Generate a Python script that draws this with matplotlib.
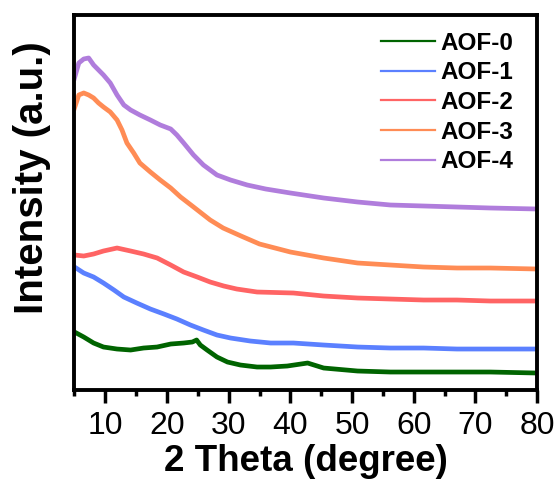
import matplotlib
matplotlib.use('Agg')
import matplotlib.pyplot as plt
from matplotlib.ticker import MultipleLocator

plt.rcParams['font.family'] = ['Liberation Sans', 'DejaVu Sans']

# 2 theta (degree) / intensity (a.u.)
x0 = [5.0, 6.5, 8.1, 9.7, 11.9, 14.1, 16.2, 18.4, 20.6, 22.7, 24.1, 24.8, 25.4, 26.5, 28.1, 29.8, 31.9,
      34.6, 36.8, 39.5, 42.8, 45.4, 50.9, 56.2, 61.6, 67.0, 72.4, 80.0]
y0 = [58, 53, 47, 43, 41, 40, 42, 43, 46, 47, 48, 50, 45, 40, 33, 28, 25,
      23, 23, 24, 27, 22, 19, 18, 18, 18, 18, 17]

x1 = [5.0, 6.5, 8.1, 9.7, 11.4, 13.0, 15.1, 17.3, 19.5, 21.6, 23.8, 25.9, 28.1, 30.3, 33.5, 36.8, 40.5,
      45.4, 50.9, 56.2, 61.6, 67.0, 72.4, 80.0]
y1 = [123, 117, 113, 107, 100, 93, 87, 81, 76, 71, 65, 60, 55, 52, 49, 47, 47,
      45, 43, 42, 42, 41, 41, 41]

x2 = [5.0, 6.5, 8.1, 9.7, 11.9, 14.1, 16.2, 18.4, 20.6, 22.7, 24.9, 27.0, 29.2, 31.3, 34.6, 40.5,
      45.4, 50.9, 56.2, 61.6, 67.0, 72.4, 80.0]
y2 = [135, 134, 136, 139, 142, 139, 136, 132, 125, 118, 113, 108, 104, 101, 98, 97,
      94, 92, 91, 90, 90, 89, 89]

x3 = [5.0, 5.7, 6.5, 7.3, 8.1, 8.9, 9.7, 10.8, 11.9, 12.7, 13.5, 14.6, 15.6, 17.3, 18.9, 20.6, 22.2,
      24.3, 27.0, 29.1, 32.0, 35.0, 40.0, 45.4, 50.9, 56.2, 61.6, 67.0, 72.4, 80.0]
y3 = [282, 295, 297, 295, 292, 287, 283, 278, 270, 260, 247, 237, 227, 218, 210, 202, 193,
      183, 170, 162, 154, 146, 138, 132, 127, 125, 123, 122, 122, 121]

x4 = [5.0, 5.7, 6.5, 7.3, 8.1, 8.9, 9.7, 10.8, 11.9, 13.0, 14.1, 15.6, 17.3, 18.9, 20.6, 21.6, 22.7,
      24.3, 25.9, 28.1, 30.3, 33.0, 36.0, 40.0, 45.4, 50.9, 56.2, 61.6, 67.0, 72.4, 80.0]
y4 = [312, 327, 331, 332, 325, 320, 315, 307, 295, 285, 280, 275, 270, 265, 261, 255, 247,
      235, 225, 215, 210, 205, 201, 197, 192, 188, 185, 184, 183, 182, 181]

labels = ['AOF-0', 'AOF-1', 'AOF-2', 'AOF-3', 'AOF-4']
colors = ['#006400', '#5b80ff', '#ff6464', '#ff8c55', '#b07ddc']

fig = plt.figure(figsize=(5.58, 4.83), dpi=100)
ax = fig.add_axes([0.1335, 0.1925, 0.829, 0.7765])

for xs, ys, lab, col in zip((x0, x1, x2, x3, x4), (y0, y1, y2, y3, y4), labels, colors):
    ax.plot(xs, ys, color=col, lw=3.4, label=lab)

ax.set_xlim(5, 80)
ax.set_ylim(0, 375)
ax.xaxis.set_major_locator(MultipleLocator(10))
ax.xaxis.set_minor_locator(MultipleLocator(5))
ax.set_xticks(range(10, 81, 10))
ax.set_yticks([])
ax.tick_params(axis='x', which='major', length=9, width=2.5, labelsize=23, pad=6)
ax.tick_params(axis='x', which='minor', length=4.5, width=2.5)
for sp in ax.spines.values():
    sp.set_linewidth(2.8)

ax.set_xlabel('2 Theta (degree)', fontsize=26.5, fontweight='bold', labelpad=2)
ax.set_ylabel('Intensity (a.u.)', fontsize=29, fontweight='bold')
ax.yaxis.set_label_coords(-0.050, 0.565)

leg = ax.legend(loc='upper right', frameon=False, prop={'size': 17.5, 'weight': 'bold'},
                handlelength=2.25, labelspacing=0.27, handletextpad=0.22,
                borderaxespad=0, borderpad=0.4, bbox_to_anchor=(0.970, 0.981))
for line in leg.get_lines():
    line.set_linewidth(1.6)

fig.savefig('out.png', dpi=100)
